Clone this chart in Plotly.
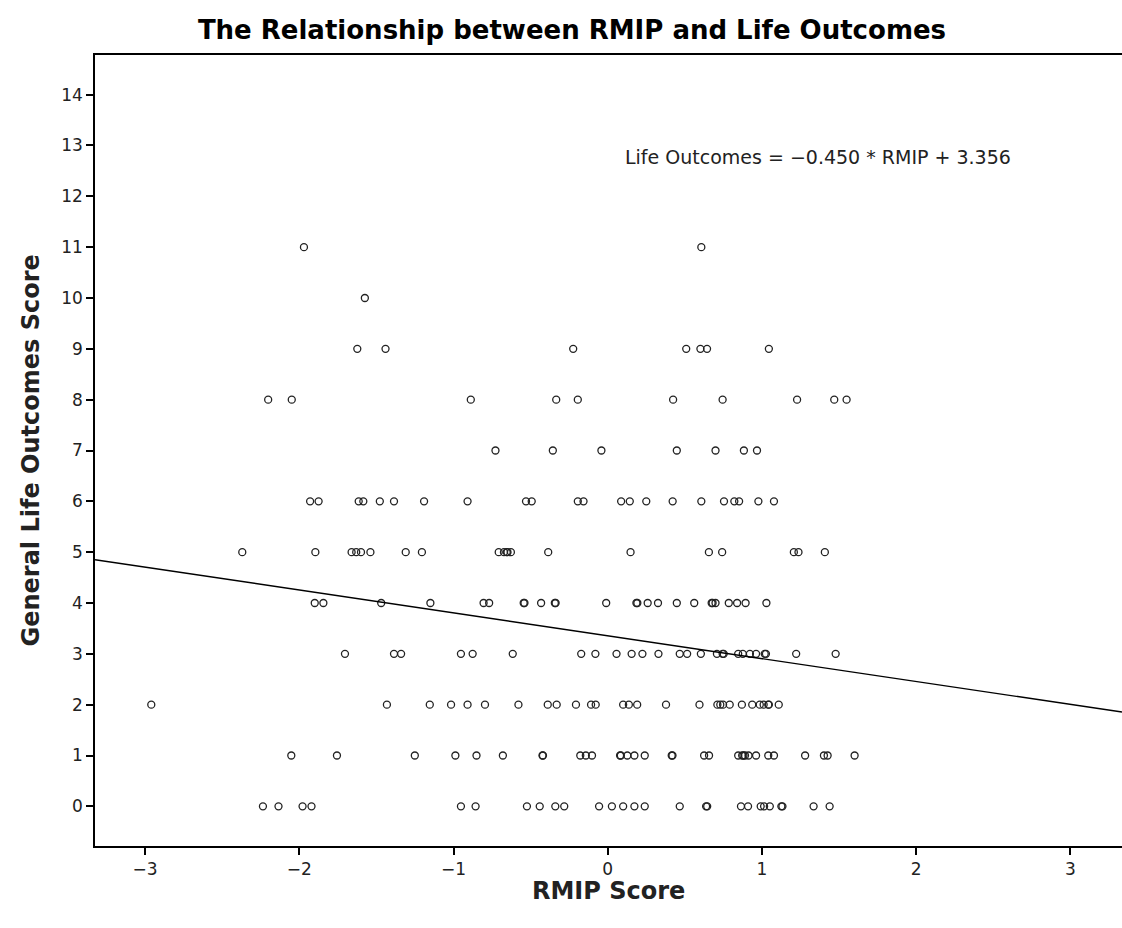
import plotly.graph_objects as go

# RMIP scores read per life-outcome level (y value)
rmip_y0 = [-2.236, -2.135, -1.979, -1.921, -0.952, -0.857, -0.524, -0.441, -0.340, -0.282,
           -0.056, 0.027, 0.100, 0.173, 0.240, 0.467, 0.638, 0.645, 0.864, 0.910,
           0.992, 1.014, 1.051, 1.126, 1.133, 1.335, 1.439]
rmip_y1 = [-2.052, -1.756, -1.251, -0.988, -0.851, -0.680, -0.423, -0.420, -0.178, -0.142,
           -0.102, 0.080, 0.085, 0.127, 0.173, 0.240, 0.415, 0.420, 0.625, 0.657,
           0.846, 0.872, 0.880, 0.890, 0.913, 0.962, 1.041, 1.078, 1.280, 1.402, 1.426, 1.601]
rmip_y2 = [-2.960, -1.432, -1.154, -1.016, -0.909, -0.796, -0.579, -0.389, -0.331, -0.206,
           -0.108, -0.078, 0.100, 0.137, 0.191, 0.378, 0.595, 0.711, 0.730, 0.748, 0.791,
           0.870, 0.937, 0.986, 1.011, 1.041, 1.045, 1.109]
rmip_y3 = [-1.704, -1.386, -1.340, -0.952, -0.876, -0.616, -0.172, -0.080, 0.057, 0.155,
           0.225, 0.329, 0.467, 0.515, 0.604, 0.708, 0.745, 0.752, 0.846, 0.876, 0.922,
           0.962, 1.018, 1.026, 1.222, 1.478]
rmip_y4 = [-1.900, -1.844, -1.469, -1.150, -0.805, -0.769, -0.545, -0.540, -0.432, -0.343,
           -0.338, -0.010, 0.186, 0.192, 0.259, 0.326, 0.448, 0.561, 0.674, 0.680, 0.699,
           0.785, 0.839, 0.894, 1.029]
rmip_y5 = [-2.370, -1.896, -1.661, -1.631, -1.600, -1.539, -1.310, -1.205, -0.707, -0.673,
           -0.655, -0.650, -0.628, -0.386, 0.148, 0.656, 0.742, 1.207, 1.237, 1.408]
rmip_y6 = [-1.930, -1.875, -1.615, -1.585, -1.478, -1.386, -1.191, -0.909, -0.530, -0.493,
           -0.194, -0.157, 0.087, 0.143, 0.250, 0.421, 0.607, 0.754, 0.821, 0.852, 0.977, 1.078]
rmip_y7 = [-0.728, -0.356, -0.041, 0.448, 0.699, 0.883, 0.968]
rmip_y8 = [-2.202, -2.049, -0.888, -0.334, -0.194, 0.424, 0.745, 1.228, 1.469, 1.549]
rmip_y9 = [-1.624, -1.441, -0.224, 0.509, 0.601, 0.644, 1.045]
rmip_y10 = [-1.575]
rmip_y11 = [-1.970, 0.607]

outcome_levels = [0, 1, 2, 3, 4, 5, 6, 7, 8, 9, 10, 11]
rows = [rmip_y0, rmip_y1, rmip_y2, rmip_y3, rmip_y4, rmip_y5,
        rmip_y6, rmip_y7, rmip_y8, rmip_y9, rmip_y10, rmip_y11]

# Regression line coefficients (from the equation shown)
slope = -0.450
intercept = 3.356
line_x = [-3.325, 3.335]

x_ticks = [-3, -2, -1, 0, 1, 2, 3]
x_tick_labels = ["\u22123", "\u22122", "\u22121", "0", "1", "2", "3"]
y_ticks = list(range(0, 15))

rmip = []
outcome = []
for lvl, r in zip(outcome_levels, rows):
    rmip.extend(r)
    outcome.extend([lvl] * len(r))

fig = go.Figure()
fig.add_trace(go.Scatter(
    x=rmip, y=outcome, mode="markers",
    marker=dict(symbol="circle-open", size=7, color="#222222", line=dict(width=1.3)),
    showlegend=False, hoverinfo="x+y"))
fig.add_trace(go.Scatter(
    x=line_x, y=[slope * v + intercept for v in line_x], mode="lines",
    line=dict(color="black", width=1.4), showlegend=False, hoverinfo="skip"))

font_family = "DejaVu Sans"
fig.update_layout(
    width=1122, height=928,
    margin=dict(l=95, r=0, t=55, b=82, autoexpand=False),
    paper_bgcolor="white", plot_bgcolor="white",
    title=dict(text="<b>The Relationship between RMIP and Life Outcomes</b>",
               x=572 / 1122, xanchor="center", y=1 - 30 / 928, yanchor="middle",
               font=dict(family=font_family, size=26, color="black")),
    xaxis=dict(range=line_x, tickvals=x_ticks, ticktext=x_tick_labels, automargin=False,
               showgrid=False, zeroline=False, showline=True, linecolor="black",
               linewidth=1.6, mirror=True, ticks="outside", ticklen=7, tickwidth=1.6,
               tickcolor="black", tickfont=dict(family=font_family, size=17, color="#222222")),
    yaxis=dict(range=[-0.78, 14.78], tickvals=y_ticks, automargin=False,
               showgrid=False, zeroline=False, showline=True, linecolor="black",
               linewidth=1.6, mirror=False, ticks="outside", ticklen=7, tickwidth=1.6,
               tickcolor="black", tickfont=dict(family=font_family, size=17, color="#222222")),
    annotations=[
        dict(x=0.10, y=12.78, xref="x", yref="y", xanchor="left", yanchor="middle",
             text="Life Outcomes = \u22120.450 * RMIP + 3.356", showarrow=False,
             font=dict(family=font_family, size=19, color="#222222")),
        dict(x=0.5, y=0, xref="paper", yref="paper", xanchor="center", yanchor="middle",
             yshift=-45, text="<b>RMIP Score</b>", showarrow=False,
             font=dict(family=font_family, size=24, color="#222222")),
        dict(x=0, y=0.5, xref="paper", yref="paper", xanchor="center", yanchor="middle",
             xshift=-65, textangle=-90, text="<b>General Life Outcomes Score</b>",
             showarrow=False, font=dict(family=font_family, size=24, color="#222222")),
    ],
)
fig.write_html(
    "out.html",
    config={"displayModeBar": False},
    post_script="document.body.style.margin='0';document.body.style.overflow='hidden';",
)
